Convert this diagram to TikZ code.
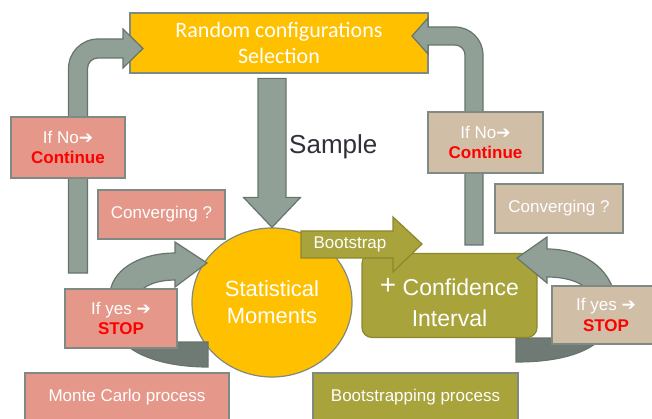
\documentclass[tikz,border=0pt]{standalone}
\usepackage{fontspec}
\setmainfont{Liberation Sans}
\newfontfamily\calibrifont{Carlito}
\newfontfamily\symbfont{DejaVu Sans}
\usetikzlibrary{shapes.geometric}

\definecolor{gold}{HTML}{FFC000}
\definecolor{salmon}{HTML}{E5988A}
\definecolor{boxtan}{HTML}{D0BEA6}
\definecolor{boxolive}{HTML}{A8A33B}
\definecolor{oliveedge}{HTML}{8C8830}
\definecolor{arrowgray}{HTML}{91A096}
\definecolor{arrowdark}{HTML}{707A74}
\definecolor{arrowedge}{HTML}{66756B}
\definecolor{boxedge}{HTML}{7E8A83}
\definecolor{samplegray}{HTML}{30303A}

\newcommand{\goarrow}{{\symbfont ➔}}

\begin{document}
\begin{tikzpicture}[x=1pt,y=-1pt]
				\tikzstyle{every node}=[inner sep=0pt, text=white]
				\tikzstyle{salmonbox}=[rectangle, draw=boxedge, line width=1.2pt, fill=salmon,
				align=center, font=\fontsize{17}{20.5}\selectfont]
				\tikzstyle{tanbox}=[salmonbox, fill=boxtan]
				\tikzstyle{olivebox}=[salmonbox, fill=boxolive]
				\tikzstyle{fatarrow}=[fill=arrowgray, draw=arrowedge, line width=1.2pt]
				\tikzstyle{backarrow}=[fatarrow, fill=arrowdark]
				\useasboundingbox (0,0) rectangle (652,419);
				\clip (0,0) rectangle (652,419);

				% selection box on top
				\node[rectangle, draw=boxedge, line width=1.2pt, fill=gold, minimum width=298pt,
				minimum height=60pt, align=center, font=\calibrifont\fontsize{22}{26}\selectfont]
				(select) at (279,43) {Random configurations\\Selection};

				% loops back to the selection
				\filldraw[fatarrow] (68.5,273) -- (68.5,68.5) arc[start angle=180, end angle=270, radius=29.5]
				-- (123,39) -- (123,29) -- (143,48.5) -- (123,68) -- (123,58) -- (98,58)
				arc[start angle=270, end angle=180, radius=10.5] -- (87.5,273) -- cycle;
				\filldraw[fatarrow] (483,245) -- (483,55) arc[start angle=0, end angle=-90, radius=28]
				-- (428,27) -- (428,18) -- (412,36) -- (428,54) -- (428,45) -- (455,45)
				arc[start angle=-90, end angle=0, radius=10] -- (465,245) -- cycle;

				\node[salmonbox, minimum width=114pt, minimum height=61pt] (noL) at (68,147.5)
				{If No\goarrow\\\textcolor{red}{\bfseries Continue}};
				\node[tanbox, minimum width=115pt, minimum height=61pt] (noR) at (485.5,142.5)
				{If No\goarrow\\\textcolor{red}{\bfseries Continue}};

				% moments
				\node[ellipse, draw=boxedge, line width=1.2pt, fill=gold, minimum width=160pt,
				minimum height=149pt, align=center, font=\fontsize{22}{27}\selectfont]
				(moments) at (272,302.5) {Statistical\\Moments};

				% sample arrow
				\filldraw[fatarrow, shift={(moments.north)}] (-14,-149) -- (14,-149) -- (14,-30)
				-- (28.5,-30) -- (0,0) -- (-28.5,-30) -- (-14,-30) -- cycle;
				\node[anchor=base west, text=samplegray, font=\fontsize{26}{30}\selectfont]
				(samplelbl) at (289,154) {Sample};

				% monte carlo loop
				\filldraw[backarrow] (130,348) .. controls (150,362) and (180,367) .. (208,367)
				-- (208,342) -- (170,342) -- (170,348) -- cycle;
				\filldraw[fatarrow] (110,292) .. controls (114,266) and (145,253) .. (175,253)
				-- (175,242) -- (207,263) -- (175,287) -- (175,280)
				.. controls (160,280) and (146,284) .. (140,292) -- cycle;

				% bootstrap loop
				\filldraw[backarrow] (516,338) -- (556,338) -- (556,344) -- (595,344)
				.. controls (575,358) and (545,362) .. (516,362) -- cycle;
				\node[rectangle, rounded corners=10pt, draw=oliveedge, line width=1.2pt, fill=boxolive,
				minimum width=175pt, minimum height=84pt] (conf) at (449.5,295.5) {};
				\node[align=center, font=\fontsize{23}{31}\selectfont] (conftext) at ([yshift=-7pt]conf.center)
				{\raisebox{1pt}{\fontsize{28}{28}\selectfont+} Confidence\\Interval};
				\filldraw[fill=boxolive, draw=oliveedge, line width=1.2pt] (301,231) -- (393,231) -- (393,217)
				-- (422,244) -- (393,272) -- (393,258) -- (301,258) -- cycle;
				\node[font=\fontsize{17}{20}\selectfont] (bootlbl) at (350,244) {Bootstrap};
				\filldraw[fatarrow] (547,249) .. controls (580,249) and (605,265) .. (613,289)
				-- (587,289) .. controls (578,280) and (562,277) .. (547,277)
				-- (547,283) -- (517,258) -- (547,237) -- cycle;

				% question and stop boxes
				\node[salmonbox, minimum width=127pt, minimum height=49pt] (convL) at (161.5,214.5) {Converging ?};
				\node[tanbox, minimum width=128pt, minimum height=49pt] (convR) at (559,208.5) {Converging ?};
				\node[salmonbox, minimum width=112pt, minimum height=59pt] (yesL) at (121,318.5)
				{If yes \goarrow\\\textcolor{red}{\bfseries STOP}};
				\node[tanbox, minimum width=108pt, minimum height=58pt] (yesR) at (606,315)
				{If yes \goarrow\\\textcolor{red}{\bfseries STOP}};

				% process names
				\node[salmonbox, minimum width=204pt, minimum height=48pt] (mcbox) at (127,397) {Monte Carlo process};
				\node[olivebox, minimum width=205pt, minimum height=48pt] (bsbox) at (415.5,397) {Bootstrapping process};
\end{tikzpicture}
\end{document}
